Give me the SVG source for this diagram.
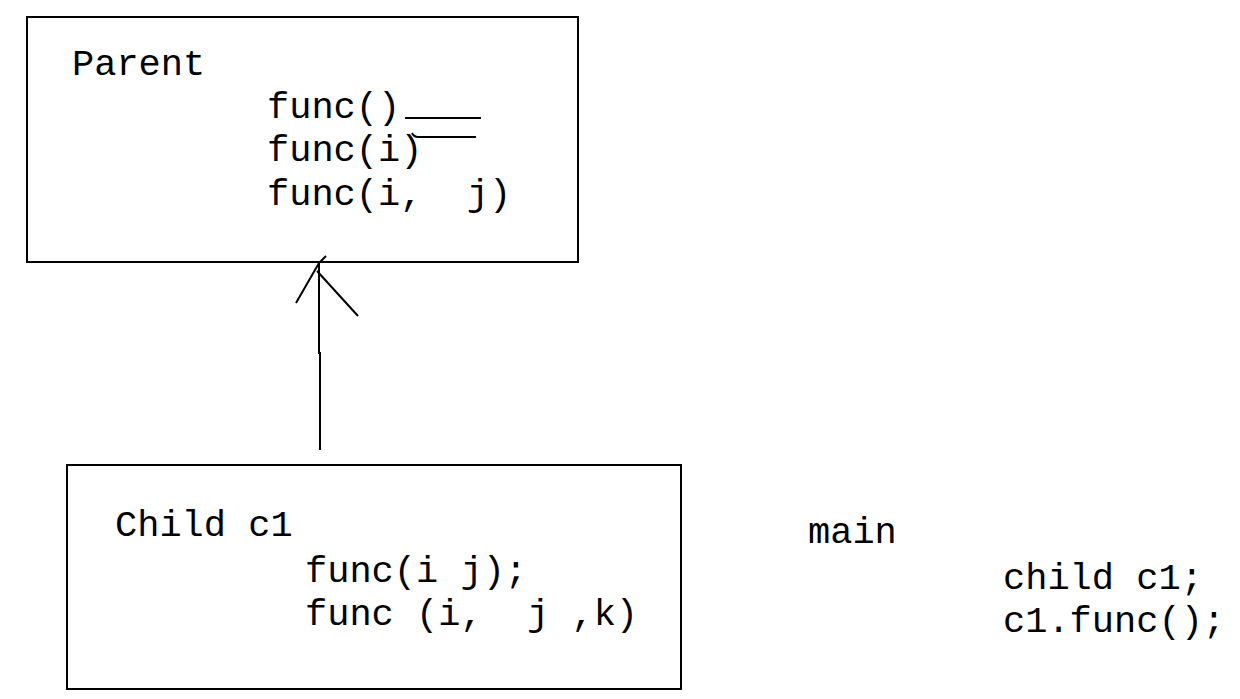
<svg xmlns="http://www.w3.org/2000/svg" width="1240" height="699" viewBox="0 0 1240 699">
<style>
.box{fill:#fff;stroke:#000;stroke-width:2}
.t{font-family:"Liberation Mono",monospace;font-size:37px;fill:#000;white-space:pre}
.ln{stroke:#000;stroke-width:2;fill:none}
</style>
<rect width="1240" height="699" fill="#fff"/>
<g id="parent">
<rect class="box" x="27" y="17" width="551" height="245"/>
<text class="t" x="72" y="75">Parent</text>
<text class="t" x="267" y="118">func()</text>
<text class="t" x="267" y="161">func(i)</text>
<text class="t" x="267" y="205" xml:space="preserve">func(i,  j)</text>
<line class="ln" x1="405" y1="118" x2="481" y2="118"/>
<path class="ln" d="M412 133 Q414 137 418 137 L476 137"/>
</g>
<g id="child">
<rect class="box" x="67" y="465" width="614" height="224"/>
<text class="t" x="115" y="536">Child c1</text>
<text class="t" x="305" y="582">func(i j);</text>
<text class="t" x="305" y="625" xml:space="preserve">func (i,  j ,k)</text>
</g>
<g id="main">
<text class="t" x="808" y="543">main</text>
<text class="t" x="1003" y="589">child c1;</text>
<text class="t" x="1003" y="632">c1.func();</text>
</g>
<g id="connectors">
<path class="ln" d="M320 450 L320 353 L319 353 L319 263"/>
<line class="ln" x1="319" y1="263" x2="296" y2="303"/>
<line class="ln" x1="317" y1="271" x2="358" y2="316"/>
<line class="ln" x1="319" y1="263" x2="326" y2="256"/>
</g>
</svg>
